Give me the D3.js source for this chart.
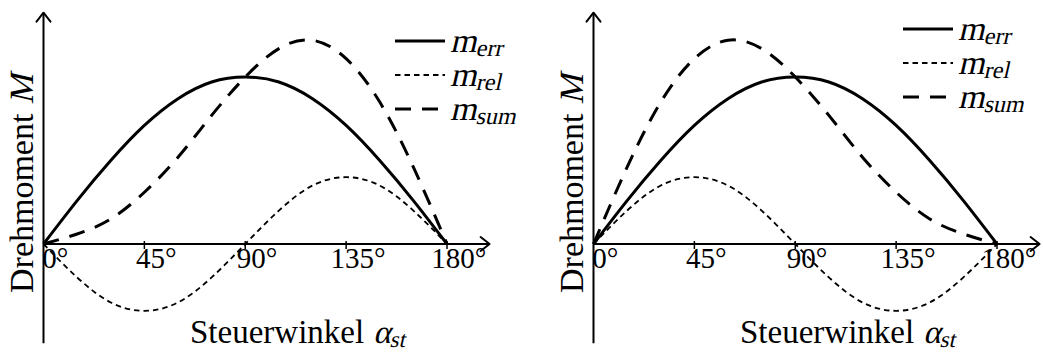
<!DOCTYPE html>
<html>
<head>
<meta charset="utf-8">
<script src="https://cdn.jsdelivr.net/npm/d3@7"></script>
<style>
  body { margin: 0; background: #fff; }
  svg { display: block; }
  text { font-family: "Liberation Serif", "DejaVu Serif", serif; fill: #000; }
</style>
</head>
<body>
<svg id="chart" width="1043" height="353"></svg>
<script>
// Steering angle samples (degrees) and torque components (normalised to m_err peak)
const angles     = [0, 15, 30, 45, 60, 75, 90, 105, 120, 135, 150, 165, 180];
const mErr       = [0, 0.26, 0.50, 0.71, 0.87, 0.97, 1.00, 0.97, 0.87, 0.71, 0.50, 0.26, 0];
const mRelLeft   = [0, -0.20, -0.35, -0.40, -0.35, -0.20, 0, 0.20, 0.35, 0.40, 0.35, 0.20, 0];
const mSumLeft   = [0, 0.06, 0.15, 0.31, 0.52, 0.77, 1.00, 1.17, 1.22, 1.11, 0.85, 0.46, 0];
const mRelRight  = [0, 0.20, 0.35, 0.40, 0.35, 0.20, 0, -0.20, -0.35, -0.40, -0.35, -0.20, 0];
const mSumRight  = [0, 0.46, 0.85, 1.11, 1.22, 1.17, 1.00, 0.77, 0.52, 0.31, 0.15, 0.06, 0];

const tickAngles = [0, 45, 90, 135, 180];
const tickLabels = ["0", "45", "90", "135", "180"];
const legendSubs = ["err", "rel", "sum"];
const xTitle = "Steuerwinkel";
const yTitle = "Drehmoment";

// line styles for the three series
const styles = [
  { width: 3,   dash: null },
  { width: 1.8, dash: "5.5,4" },
  { width: 3,   dash: "16,11" }
];

const panels = [
  { dx: 0,   series: [mErr, mRelLeft,  mSumLeft],  legendX: 395, legendY: 41 },
  { dx: 550, series: [mErr, mRelRight, mSumRight], legendX: 903, legendY: 29 }
];

const SKEW = -13; // slant for math italics

const svg = d3.select("#chart");
svg.append("rect").attr("width", 1043).attr("height", 353).attr("fill", "#fff");

const y = d3.scaleLinear().domain([0, 1]).range([244, 77]);

panels.forEach(p => {
  const g = svg.append("g");
  const x = d3.scaleLinear().domain([0, 180]).range([43.5 + p.dx, 447 + p.dx]);

  // axes with open arrow heads
  const x0 = x(0), y0 = y(0);
  const xEnd = x(199), yTop = y(1.385), yBot = y(-0.595);
  g.append("line").attr("x1", x0).attr("x2", xEnd).attr("y1", y0).attr("y2", y0)
    .attr("stroke", "#000").attr("stroke-width", 2);
  g.append("line").attr("x1", x0).attr("x2", x0).attr("y1", yBot).attr("y2", yTop)
    .attr("stroke", "#000").attr("stroke-width", 2);
  g.append("path")
    .attr("d", `M${xEnd - 9},${y0 - 7}L${xEnd},${y0}L${xEnd - 9},${y0 + 7}`)
    .attr("fill", "none").attr("stroke", "#000").attr("stroke-width", 2)
    .attr("stroke-linecap", "round").attr("stroke-linejoin", "round");
  g.append("path")
    .attr("d", `M${x0 - 7},${yTop + 9}L${x0},${yTop}L${x0 + 7},${yTop + 9}`)
    .attr("fill", "none").attr("stroke", "#000").attr("stroke-width", 2)
    .attr("stroke-linecap", "round").attr("stroke-linejoin", "round");

  // tick marks and labels
  tickAngles.forEach((a, i) => {
    if (a > 0) {
      g.append("line").attr("x1", x(a)).attr("x2", x(a))
        .attr("y1", y0 - 3).attr("y2", y0 + 5)
        .attr("stroke", "#000").attr("stroke-width", 1.5);
    }
    const t = g.append("text").attr("y", 268).attr("font-size", 29);
    t.append("tspan").attr("class", "num").text(tickLabels[i]);
    t.append("tspan").text("°");
    const w = t.select(".num").node().getComputedTextLength();
    t.attr("x", x(a) - w / 2 + 6);
  });

  // curves
  const line = d3.line()
    .x((d, i) => x(angles[i]))
    .y(d => y(d))
    .curve(d3.curveNatural);
  p.series.forEach((vals, k) => {
    g.append("path").datum(vals)
      .attr("d", line)
      .attr("fill", "none").attr("stroke", "#000")
      .attr("stroke-width", styles[k].width)
      .attr("stroke-dasharray", styles[k].dash);
  });

  // legend
  legendSubs.forEach((s, k) => {
    const ly = p.legendY + k * 34;
    g.append("line")
      .attr("x1", p.legendX).attr("x2", p.legendX + 50)
      .attr("y1", ly).attr("y2", ly)
      .attr("stroke", "#000")
      .attr("stroke-width", styles[k].width)
      .attr("stroke-dasharray", styles[k].dash);
    const t = g.append("text")
      .attr("transform", `translate(${p.legendX + 55},${ly + 11}) skewX(${SKEW})`)
      .attr("font-size", 34);
    t.append("tspan").text("m");
    t.append("tspan").attr("font-size", 24).attr("dy", 4).text(s);
  });

  // x axis title
  const xt = g.append("text").attr("x", 190 + p.dx).attr("y", 343).attr("font-size", 33);
  xt.text(xTitle);
  const xw = xt.node().getComputedTextLength();
  const xa = g.append("text")
    .attr("transform", `translate(${190 + p.dx + xw + 9},343) skewX(${SKEW})`)
    .attr("font-size", 33);
  xa.append("tspan").text("α");
  xa.append("tspan").attr("font-size", 23).attr("dy", 4).text("st");

  // y axis title
  const yg = g.append("g").attr("transform", `translate(${33 + p.dx},293) rotate(-90)`);
  const yt = yg.append("text").attr("x", 0).attr("y", 0).attr("font-size", 34).text(yTitle);
  const yw = yt.node().getComputedTextLength();
  yg.append("text")
    .attr("transform", `translate(${yw + 9},0) skewX(${SKEW})`)
    .attr("font-size", 34).text("M");
});
</script>
</body>
</html>
